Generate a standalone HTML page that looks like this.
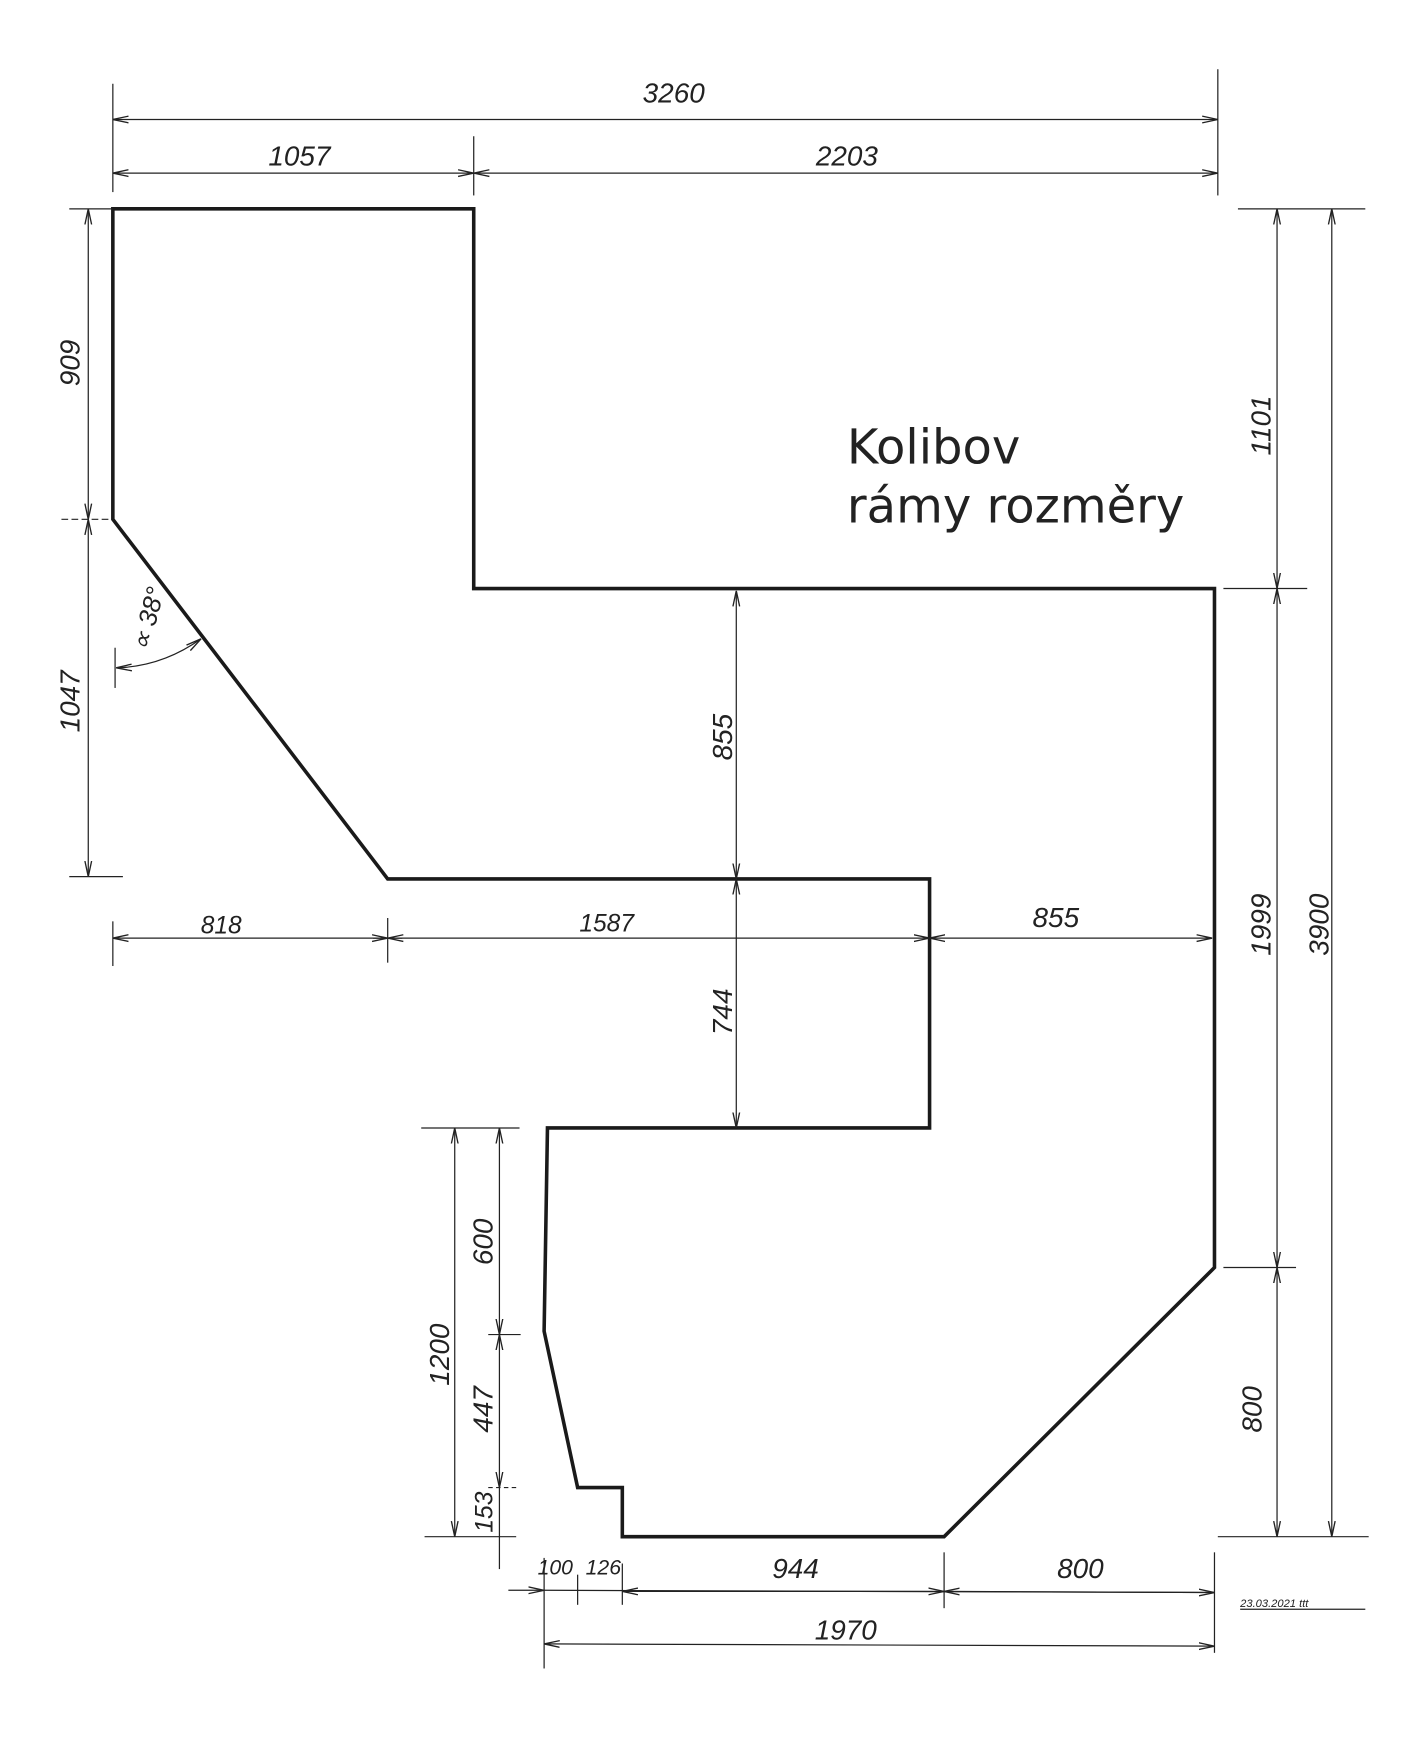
<!DOCTYPE html>
<html><head><meta charset="utf-8"><style>
html,body{margin:0;padding:0;background:#fff}
svg{display:block}
text{font-family:"Liberation Sans",sans-serif;font-style:italic;fill:#222}
</style></head><body>
<svg width="1410" height="1750" viewBox="0 0 1262 1567" preserveAspectRatio="none" xmlns="http://www.w3.org/2000/svg">
<defs>
<marker id="a" viewBox="0 0 14 8" refX="14" refY="4" markerWidth="14" markerHeight="8" markerUnits="userSpaceOnUse" orient="auto-start-reverse">
<path d="M0,1 L14,4 L0,7" fill="none" stroke="#222" stroke-width="1.2"/>
</marker>
</defs>
<rect width="1262" height="1567" fill="#fff"/>
<polygon points="101,187 424,187 424,527 1087,527 1087,1135 845,1376 557,1376 557,1332 517,1332 487,1192 490,1010 832,1010 832,787 347,787 101,465" fill="none" stroke="#1a1a1a" stroke-width="3.2" stroke-linejoin="miter"/>
<g stroke="#222" stroke-width="1.1" fill="none">
<line x1="101" y1="75" x2="101" y2="172"/>
<line x1="1090" y1="62" x2="1090" y2="175"/>
<line x1="424" y1="122" x2="424" y2="175"/>
<line x1="101" y1="107" x2="1090" y2="107" marker-start="url(#a)" marker-end="url(#a)"/>
<line x1="101" y1="155" x2="424" y2="155" marker-start="url(#a)" marker-end="url(#a)"/>
<line x1="424" y1="155" x2="1090" y2="155" marker-start="url(#a)" marker-end="url(#a)"/>
<line x1="62" y1="187" x2="101" y2="187"/>
<line x1="55" y1="465" x2="97" y2="465" stroke-dasharray="6,3"/>
<line x1="62" y1="785" x2="110" y2="785"/>
<line x1="79" y1="187" x2="79" y2="465" marker-start="url(#a)" marker-end="url(#a)"/>
<line x1="79" y1="465" x2="79" y2="785" marker-start="url(#a)" marker-end="url(#a)"/>
<line x1="103" y1="580" x2="103" y2="616"/>
<path d="M104,598 Q145,597 180,572" marker-start="url(#a)" marker-end="url(#a)"/>
<line x1="101" y1="825" x2="101" y2="865"/>
<line x1="347" y1="822" x2="347" y2="862"/>
<line x1="101" y1="840" x2="347" y2="840" marker-start="url(#a)" marker-end="url(#a)"/>
<line x1="347" y1="840" x2="832" y2="840" marker-start="url(#a)" marker-end="url(#a)"/>
<line x1="832" y1="840" x2="1085" y2="840" marker-start="url(#a)" marker-end="url(#a)"/>
<line x1="334" y1="840" x2="360" y2="840"/>
<line x1="659" y1="529" x2="659" y2="787" marker-start="url(#a)" marker-end="url(#a)"/>
<line x1="659" y1="787" x2="659" y2="1010" marker-start="url(#a)" marker-end="url(#a)"/>
<line x1="1108" y1="187" x2="1222" y2="187"/>
<line x1="1090" y1="1376" x2="1225" y2="1376"/>
<line x1="1095" y1="527" x2="1170" y2="527"/>
<line x1="1095" y1="1135" x2="1160" y2="1135"/>
<line x1="1143" y1="187" x2="1143" y2="527" marker-start="url(#a)" marker-end="url(#a)"/>
<line x1="1143" y1="527" x2="1143" y2="1135" marker-start="url(#a)" marker-end="url(#a)"/>
<line x1="1143" y1="1135" x2="1143" y2="1376" marker-start="url(#a)" marker-end="url(#a)"/>
<line x1="1192" y1="187" x2="1192" y2="1376" marker-start="url(#a)" marker-end="url(#a)"/>
<line x1="377" y1="1010" x2="465" y2="1010"/>
<line x1="380" y1="1376" x2="462" y2="1376"/>
<line x1="437" y1="1195" x2="466" y2="1195"/>
<line x1="437" y1="1332" x2="462" y2="1332" stroke-dasharray="4,3"/>
<line x1="407" y1="1010" x2="407" y2="1376" marker-start="url(#a)" marker-end="url(#a)"/>
<line x1="447" y1="1010" x2="447" y2="1195" marker-start="url(#a)" marker-end="url(#a)"/>
<line x1="447" y1="1195" x2="447" y2="1332" marker-start="url(#a)" marker-end="url(#a)"/>
<line x1="447" y1="1332" x2="447" y2="1376"/>
<line x1="447" y1="1376" x2="447" y2="1405"/>
<line x1="487" y1="1395" x2="487" y2="1494"/>
<line x1="517" y1="1410" x2="517" y2="1437"/>
<line x1="557" y1="1400" x2="557" y2="1437"/>
<line x1="845" y1="1390" x2="845" y2="1440"/>
<line x1="1087" y1="1390" x2="1087" y2="1480"/>
<line x1="455" y1="1424" x2="487" y2="1424" marker-end="url(#a)"/>
<line x1="487" y1="1424" x2="1087" y2="1426"/>
<line x1="600" y1="1425" x2="557" y2="1425" marker-end="url(#a)"/>
<line x1="557" y1="1425" x2="845" y2="1425" marker-end="url(#a)"/>
<line x1="845" y1="1425" x2="1087" y2="1426" marker-start="url(#a)" marker-end="url(#a)"/>
<line x1="487" y1="1472" x2="1087" y2="1474" marker-start="url(#a)" marker-end="url(#a)"/>
<line x1="1110" y1="1441" x2="1222" y2="1441"/>
</g>
<g font-size="25">
<text x="603" y="92" text-anchor="middle">3260</text>
<text x="268" y="148" text-anchor="middle">1057</text>
<text x="758" y="148" text-anchor="middle">2203</text>
<text x="198" y="836" text-anchor="middle" font-size="22">818</text>
<text x="543" y="834" text-anchor="middle" font-size="22">1587</text>
<text x="945" y="830" text-anchor="middle">855</text>
<text x="712" y="1413" text-anchor="middle">944</text>
<text x="967" y="1413" text-anchor="middle">800</text>
<text x="757" y="1468" text-anchor="middle">1970</text>
<text x="497" y="1410" text-anchor="middle" font-size="19">100</text>
<text x="540" y="1410" text-anchor="middle" font-size="19">126</text>
<text transform="translate(71,325) rotate(-90)" text-anchor="middle">909</text>
<text transform="translate(71,628) rotate(-90)" text-anchor="middle">1047</text>
<text transform="translate(655,660) rotate(-90)" text-anchor="middle">855</text>
<text transform="translate(655,906) rotate(-90)" text-anchor="middle">744</text>
<text transform="translate(1137,381) rotate(-90)" text-anchor="middle">1101</text>
<text transform="translate(1137,828) rotate(-90)" text-anchor="middle">1999</text>
<text transform="translate(1129,1262) rotate(-90)" text-anchor="middle">800</text>
<text transform="translate(1189,828) rotate(-90)" text-anchor="middle">3900</text>
<text transform="translate(402,1213) rotate(-90)" text-anchor="middle">1200</text>
<text transform="translate(441,1112) rotate(-90)" text-anchor="middle">600</text>
<text transform="translate(441,1262) rotate(-90)" text-anchor="middle">447</text>
<text transform="translate(441,1354) rotate(-90)" text-anchor="middle" font-size="22">153</text>
<text transform="translate(140,556) rotate(-75)" text-anchor="middle" font-size="23">∝ 38°</text>
<text x="1110" y="1439" font-size="10">23.03.2021 ttt</text>
</g>
<text x="758" y="415" font-size="43" style="font-style:normal;font-family:'DejaVu Sans',sans-serif" fill="#000">Kolibov</text>
<text x="758" y="468" font-size="43" style="font-style:normal;font-family:'DejaVu Sans',sans-serif" fill="#000">rámy rozměry</text>
</svg>
</body></html>
